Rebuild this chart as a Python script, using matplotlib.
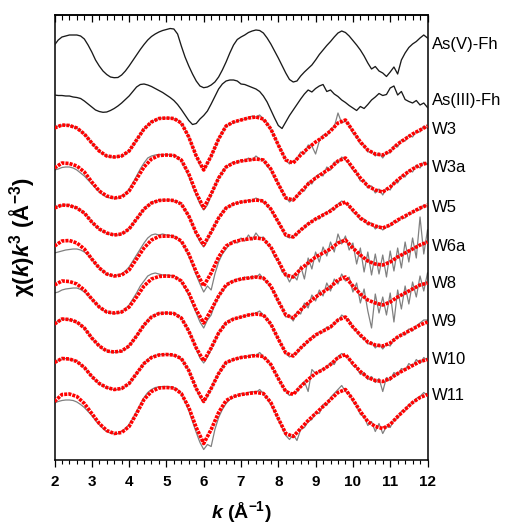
import numpy as np
import matplotlib
matplotlib.use('Agg')
import matplotlib.pyplot as plt
from matplotlib.ticker import MultipleLocator

plt.rcParams['font.family'] = ['Liberation Sans', 'DejaVu Sans']
plt.rcParams['mathtext.fontset'] = 'custom'
plt.rcParams['mathtext.rm'] = 'Liberation Sans:bold'
plt.rcParams['mathtext.it'] = 'Liberation Sans:italic:bold'
plt.rcParams['mathtext.bf'] = 'Liberation Sans:bold'

# ---------------- data ----------------
k_fit = np.linspace(2, 12, 51)     # fit grid (0.2 step)
k_data = np.linspace(2, 12, 101)   # data grid (0.1 step)

references = ['As(V)-Fh', 'As(III)-Fh']
samples = ['W3', 'W3a', 'W5', 'W6a', 'W8', 'W9', 'W10', 'W11']
ref_offsets = [41.5, 36.5]
sample_offsets = [33.2, 29.2, 25.2, 21.4, 17.5, 13.7, 9.75, 5.85]

as5_fh = [0.0, 0.5, 0.8, 0.9, 1.0, 1.0, 1.0, 0.9, 0.6, 0.0,
          -0.7, -1.5, -2.1, -2.6, -2.95, -3.2, -3.27, -3.25, -3.0, -2.6,
          -2.1, -1.55, -1.0, -0.45, 0.05, 0.5, 0.85, 1.1, 1.3, 1.45,
          1.55, 1.65, 1.6, 1.1, -0.1, -1.2, -2.1, -2.9, -3.6, -4.1,
          -4.27, -4.2, -4.0, -3.7, -3.2, -2.5, -1.7, -0.8, 0.0, 0.55,
          0.8, 1.0, 1.25, 1.4, 1.5, 1.45, 1.2, 0.7, 0.1, -0.6,
          -1.3, -2.05, -2.8, -3.45, -3.7, -3.6, -3.1, -2.7, -2.35, -2.0,
          -1.5, -0.95, -0.5, -0.05, 0.35, 0.8, 1.2, 1.4, 1.25, 0.9,
          0.45, 0.0, -0.5, -1.1, -1.8, -2.4, -2.15, -2.6, -2.8, -3.15,
          -2.7, -2.2, -2.9, -1.5, -0.8, -0.25, 0.1, 0.35, 0.7, 1.0,
          0.7]
as3_fh = [0.0, -0.05, -0.05, -0.1, -0.1, -0.2, -0.25, -0.35, -0.6, -0.9,
          -1.2, -1.5, -1.65, -1.73, -1.7, -1.55, -1.35, -1.1, -0.8, -0.45,
          -0.1, 0.35, 0.8, 1.05, 1.1, 1.0, 0.85, 0.65, 0.45, 0.25,
          0.0, -0.25, -0.55, -0.95, -1.45, -2.0, -2.55, -2.95, -2.85, -2.4,
          -2.05, -1.6, -0.9, -0.15, 0.6, 1.1, 1.4, 1.5, 1.5, 1.4,
          1.1, 1.05, 0.9, 0.75, 0.6, 0.35, -0.1, -0.7, -1.5, -2.3,
          -3.05, -3.35, -2.7, -2.05, -1.5, -0.95, -0.4, 0.1, 0.5, 0.3,
          0.65, 0.9, 1.05, 0.35, 0.5, 0.1, -0.15, -0.5, -0.75, -1.05,
          -1.3, -1.55, -1.15, -1.35, -0.95, -0.5, -0.2, 0.15, -0.05, 0.05,
          0.7, 0.9, 0.0, 0.35, -0.45, -0.65, -0.8, -0.55, -1.0, -0.8,
          -1.25]

w3_data = [0.0, 0.2, 0.3, 0.3, 0.25, 0.15, 0.0, -0.3, -0.6, -1.0,
           -1.5, -1.9, -2.3, -2.6, -2.8, -2.9, -2.9, -2.9, -2.8, -2.6,
           -2.3, -1.8, -1.2, -0.6, -0.1, 0.3, 0.6, 0.8, 0.95, 1.0,
           1.0, 1.0, 0.95, 0.8, 0.5, -0.1, -0.9, -1.9, -2.8, -3.7,
           -4.2, -3.6, -2.8, -2.0, -1.1, -0.4, 0.2, 0.4, 0.5, 0.7,
           0.8, 0.9, 1.0, 1.2, 1.1, 1.3, 0.9, 0.5, -0.1, -0.9,
           -1.7, -2.4, -3.2, -3.6, -3.3, -3.1, -2.4, -2.6, -1.7, -1.8,
           -2.6, -1.3, -0.7, -0.8, -0.1, 0.1, 1.5, 0.5, 0.7, 0.3,
           -0.5, -0.8, -1.6, -1.7, -2.4, -2.3, -2.8, -2.5, -3.0, -2.4,
           -2.5, -1.8, -1.9, -1.2, -1.3, -0.7, -0.9, -0.3, -0.4, 0.2,
           0.0]
w3_fit = [0.0, 0.3, 0.25, 0.0, -0.6, -1.5, -2.3, -2.8, -2.9, -2.8,
          -2.3, -1.2, -0.1, 0.6, 0.95, 1.0, 0.95, 0.5, -0.9, -2.8,
          -4.2, -2.8, -1.1, 0.2, 0.6, 0.8, 1.0, 1.1, 0.9, -0.1,
          -1.7, -3.2, -3.5, -2.7, -2.0, -1.4, -0.9, -0.3, 0.5, 0.8,
          -0.3, -1.4, -2.2, -2.6, -2.7, -2.3, -1.6, -1.1, -0.6, -0.2,
          0.2]

w3a_data = [-0.2, -0.1, 0.05, 0.1, 0.1, 0.0, -0.2, -0.5, -0.8, -1.2,
            -1.6, -2.0, -2.4, -2.7, -2.9, -3.0, -3.0, -3.0, -2.8, -2.6,
            -2.1, -1.5, -0.8, -0.1, 0.5, 1.0, 1.2, 1.3, 1.35, 1.3,
            1.35, 1.3, 1.25, 1.1, 0.7, 0.0, -0.8, -1.8, -2.7, -3.6,
            -4.2, -3.7, -2.7, -1.8, -1.0, -0.4, 0.1, 0.4, 0.6, 0.5,
            0.8, 0.7, 1.0, 0.8, 1.2, 0.9, 0.8, 0.2, -0.2, -1.0,
            -1.5, -2.4, -2.9, -3.4, -3.1, -2.9, -2.2, -2.3, -1.4, -1.6,
            -0.9, -0.6, -0.8, 0.1, -0.2, 0.6, 0.5, 1.1, 0.8, 0.4,
            -0.2, -0.5, -1.3, -1.2, -2.0, -1.8, -2.5, -2.1, -2.7, -2.0,
            -2.2, -1.4, -1.5, -0.8, -0.9, -0.2, -0.4, 0.3, 0.0, 0.6,
            0.4]
w3a_fit = [0.0, 0.5, 0.45, 0.2, -0.4, -1.4, -2.3, -2.8, -3.0, -2.9,
           -2.3, -1.1, 0.1, 0.9, 1.25, 1.3, 1.25, 0.8, -0.6, -2.5,
           -4.0, -2.6, -1.0, 0.1, 0.5, 0.7, 0.8, 0.9, 0.8, -0.1,
           -1.6, -3.0, -3.2, -2.4, -1.6, -1.0, -0.5, 0.0, 0.7, 1.0,
           0.0, -1.0, -1.8, -2.2, -2.4, -1.9, -1.2, -0.6, -0.1, 0.3,
           0.5]

w5_data = [0.0, 0.2, 0.3, 0.3, 0.25, 0.15, 0.0, -0.25, -0.5, -0.9,
           -1.4, -1.8, -2.1, -2.35, -2.5, -2.65, -2.7, -2.7, -2.6, -2.4,
           -2.1, -1.6, -1.1, -0.6, -0.1, 0.25, 0.5, 0.7, 0.75, 0.8,
           0.8, 0.8, 0.75, 0.6, 0.4, -0.2, -0.8, -1.7, -2.6, -3.4,
           -3.9, -3.2, -2.4, -1.7, -1.0, -0.4, 0.0, 0.2, 0.4, 0.5,
           0.6, 0.6, 0.8, 0.7, 1.0, 0.8, 0.7, 0.3, -0.2, -0.8,
           -1.4, -2.1, -2.8, -3.0, -2.8, -2.7, -2.1, -2.0, -1.5, -1.4,
           -1.0, -1.1, -0.6, -0.5, -0.1, -0.2, 0.4, 0.7, 0.5, 0.2,
           -0.4, -0.6, -1.2, -1.1, -1.7, -1.5, -2.1, -1.8, -2.2, -1.9,
           -1.8, -1.3, -1.4, -0.9, -1.0, -0.5, -0.5, -0.1, -0.2, 0.3,
           0.2]
w5_fit = [0.0, 0.3, 0.25, 0.0, -0.5, -1.4, -2.1, -2.5, -2.7, -2.6,
          -2.1, -1.1, -0.1, 0.5, 0.75, 0.8, 0.75, 0.4, -0.8, -2.5,
          -3.7, -2.4, -1.0, 0.0, 0.4, 0.6, 0.7, 0.8, 0.7, -0.1,
          -1.4, -2.7, -2.9, -2.2, -1.6, -1.1, -0.7, -0.3, 0.3, 0.6,
          -0.2, -1.0, -1.5, -1.8, -2.0, -1.7, -1.2, -0.8, -0.4, 0.0,
          0.3]

w6a_data = [-0.7, -0.6, -0.5, -0.4, -0.35, -0.3, -0.3, -0.4, -0.6, -0.9,
            -1.3, -1.8, -2.2, -2.5, -2.8, -2.9, -3.0, -2.9, -2.8, -2.5,
            -2.1, -1.5, -0.9, -0.3, 0.3, 0.8, 1.1, 1.2, 1.1, 1.2,
            1.1, 1.05, 1.0, 0.8, 0.4, -0.2, -1.0, -1.9, -2.9, -3.8,
            -4.6, -4.0, -4.4, -2.8, -1.6, -0.8, -0.3, 0.2, 0.5, 0.3,
            0.8, 0.5, 1.1, 0.6, 1.3, 0.8, 0.9, 0.2, -0.1, -1.1,
            -1.4, -2.6, -2.8, -3.6, -2.9, -3.4, -2.0, -3.3, -1.2, -2.3,
            -0.6, -1.6, -0.1, -1.0, 0.4, -0.6, 1.2, 0.2, 1.0, -0.4,
            0.3, -1.8, -0.2, -2.6, -0.6, -2.9, -0.8, -2.8, -0.9, -3.1,
            -0.5, -2.5, -0.2, -2.2, 0.4, -1.6, 0.8, -1.2, 2.9, -0.8,
            1.6]
w6a_fit = [0.0, 0.5, 0.55, 0.3, -0.3, -1.3, -2.2, -2.8, -3.0, -2.9,
           -2.4, -1.3, -0.2, 0.6, 0.95, 1.0, 0.95, 0.5, -0.8, -2.6,
           -4.0, -2.7, -1.1, 0.0, 0.4, 0.6, 0.7, 0.8, 0.7, -0.1,
           -1.5, -2.9, -3.1, -2.3, -1.7, -1.1, -0.7, -0.3, 0.3, 0.6,
           -0.2, -0.9, -1.5, -1.8, -1.9, -1.6, -1.1, -0.7, -0.3, 0.1,
           0.4]

w8_data = [-0.8, -0.7, -0.5, -0.4, -0.35, -0.3, -0.3, -0.45, -0.7, -1.0,
           -1.4, -1.8, -2.2, -2.5, -2.7, -2.8, -2.85, -2.8, -2.7, -2.4,
           -2.0, -1.4, -0.8, -0.1, 0.4, 0.9, 1.1, 1.2, 1.1, 1.0,
           1.0, 0.95, 0.9, 0.7, 0.3, -0.3, -1.0, -1.9, -2.8, -3.7,
           -4.3, -3.5, -3.0, -1.9, -1.2, -0.6, -0.1, 0.3, 0.4, 0.6,
           0.5, 0.8, 0.6, 0.9, 0.7, 1.1, 0.6, 0.3, -0.3, -0.8,
           -1.7, -2.2, -3.2, -3.0, -3.6, -2.7, -2.9, -1.8, -2.3, -1.0,
           -1.6, -0.5, -1.1, 0.2, -0.6, 0.6, 0.1, 1.1, 0.4, 0.8,
           -0.7, 0.2, -1.8, -0.4, -2.6, -4.3, -0.9, -2.8, -1.2, -3.0,
           -0.8, -3.7, -0.5, -2.4, -0.1, -1.9, 0.3, -1.2, 0.9, -0.6,
           1.2]
w8_fit = [0.0, 0.4, 0.35, 0.1, -0.5, -1.4, -2.2, -2.7, -2.8, -2.7,
          -2.2, -1.2, -0.1, 0.6, 0.85, 0.9, 0.85, 0.4, -0.8, -2.5,
          -3.8, -2.5, -1.1, 0.0, 0.4, 0.6, 0.7, 0.8, 0.7, -0.1,
          -1.6, -3.0, -3.3, -2.5, -1.8, -1.2, -0.7, -0.2, 0.5, 0.8,
          -0.1, -0.9, -1.5, -1.8, -2.0, -1.7, -1.2, -0.8, -0.4, 0.0,
          0.2]

w9_data = [-0.1, 0.2, 0.35, 0.4, 0.35, 0.25, 0.1, -0.2, -0.5, -1.0,
           -1.5, -1.9, -2.3, -2.6, -2.8, -2.9, -2.95, -2.9, -2.8, -2.6,
           -2.3, -1.8, -1.3, -0.7, -0.2, 0.3, 0.6, 0.85, 0.95, 1.0,
           1.0, 1.0, 0.95, 0.8, 0.5, -0.1, -0.8, -1.6, -2.6, -3.5,
           -4.0, -3.4, -2.6, -1.8, -1.0, -0.4, 0.0, 0.3, 0.4, 0.5,
           0.6, 0.7, 0.8, 0.9, 1.0, 1.2, 0.8, 0.4, -0.1, -0.9,
           -1.6, -2.3, -3.0, -3.4, -3.2, -3.0, -2.5, -2.2, -1.9, -1.4,
           -1.3, -0.9, -0.9, -0.4, -0.5, 0.0, 0.2, 0.8, 0.5, 0.3,
           -0.5, -0.8, -1.4, -1.5, -2.1, -1.9, -2.5, -2.1, -2.6, -2.1,
           -2.3, -1.6, -1.5, -1.1, -1.2, -0.6, -0.8, -0.3, 0.0, 0.3,
           0.3]
w9_fit = [-0.1, 0.4, 0.35, 0.1, -0.5, -1.5, -2.3, -2.8, -2.9, -2.8,
          -2.3, -1.3, -0.2, 0.6, 0.95, 1.0, 0.95, 0.5, -0.8, -2.5,
          -3.8, -2.5, -1.0, 0.0, 0.4, 0.6, 0.8, 0.9, 0.8, -0.1,
          -1.6, -3.0, -3.3, -2.5, -1.8, -1.2, -0.8, -0.4, 0.3, 0.6,
          -0.4, -1.2, -1.9, -2.2, -2.3, -2.0, -1.4, -1.0, -0.6, -0.2,
          0.1]

w10_data = [0.0, 0.2, 0.35, 0.4, 0.35, 0.25, 0.1, -0.2, -0.5, -0.9,
            -1.4, -1.8, -2.1, -2.35, -2.5, -2.65, -2.7, -2.7, -2.6, -2.4,
            -2.1, -1.6, -1.1, -0.6, -0.1, 0.3, 0.55, 0.7, 0.8, 0.8,
            0.8, 0.8, 0.75, 0.6, 0.4, -0.2, -0.8, -1.7, -2.6, -3.5,
            -4.0, -3.4, -2.6, -1.8, -1.1, -0.5, 0.0, 0.1, 0.3, 0.4,
            0.5, 0.6, 0.6, 0.8, 0.7, 1.0, 0.6, 0.3, -0.3, -0.9,
            -1.6, -2.3, -2.9, -3.3, -3.1, -2.9, -2.3, -1.9, -2.9, -0.7,
            -1.1, -0.9, -0.6, -0.5, 0.0, -0.2, 0.6, 0.9, 0.6, 0.4,
            -0.3, -0.5, -1.2, -1.0, -1.7, -1.4, -2.0, -1.6, -2.9, -1.5,
            -1.8, -1.0, -1.3, -0.6, -0.8, -0.1, -0.4, 0.3, -0.1, 0.5,
            0.2]
w10_fit = [0.0, 0.4, 0.35, 0.1, -0.5, -1.4, -2.1, -2.5, -2.7, -2.6,
           -2.1, -1.1, -0.1, 0.5, 0.75, 0.8, 0.75, 0.4, -0.8, -2.6,
           -3.9, -2.6, -1.1, 0.0, 0.3, 0.5, 0.6, 0.7, 0.6, -0.2,
           -1.6, -2.9, -3.2, -2.4, -1.7, -1.1, -0.7, -0.2, 0.5, 0.8,
           -0.1, -0.9, -1.5, -1.8, -1.9, -1.6, -1.1, -0.7, -0.3, 0.1,
           0.3]

w11_data = [-0.15, 0.0, 0.1, 0.15, 0.15, 0.1, -0.05, -0.3, -0.6, -1.0,
            -1.4, -1.9, -2.3, -2.7, -3.0, -3.15, -3.2, -3.2, -3.0, -2.7,
            -2.3, -1.7, -1.0, -0.3, 0.4, 0.9, 1.2, 1.4, 1.45, 1.5,
            1.5, 1.45, 1.4, 1.2, 0.8, 0.0, -0.9, -2.0, -3.1, -4.1,
            -4.8, -4.3, -4.5, -2.8, -1.6, -0.8, -0.2, 0.2, 0.5, 0.6,
            0.8, 0.7, 0.9, 1.0, 0.9, 1.2, 0.8, 0.3, -0.3, -1.0,
            -1.8, -2.6, -3.4, -3.8, -3.3, -3.9, -2.8, -2.6, -2.0, -1.8,
            -1.1, -1.2, -0.3, -0.4, 0.4, 0.8, 1.2, 1.6, 1.0, 0.8,
            0.0, -0.4, -1.3, -1.5, -2.4, -2.0, -3.0, -2.2, -3.2, -2.5,
            -2.6, -1.8, -1.7, -1.0, -0.9, -0.3, -0.2, 0.3, 0.5, 0.9,
            0.6]
w11_fit = [0.0, 0.7, 0.75, 0.5, -0.2, -1.2, -2.2, -2.9, -3.2, -3.1,
           -2.5, -1.2, 0.2, 1.0, 1.35, 1.4, 1.35, 0.8, -0.6, -2.6,
           -4.2, -2.8, -1.1, 0.1, 0.5, 0.7, 0.8, 0.9, 0.8, -0.1,
           -1.7, -3.2, -3.5, -2.7, -1.9, -1.2, -0.5, 0.2, 0.9, 1.2,
           0.2, -1.0, -2.0, -2.5, -2.7, -2.3, -1.5, -0.8, -0.1, 0.4,
           0.7]

ref_curves = [as5_fh, as3_fh]
data_curves = [w3_data, w3a_data, w5_data, w6a_data, w8_data, w9_data, w10_data, w11_data]
fit_curves = [w3_fit, w3a_fit, w5_fit, w6a_fit, w8_fit, w9_fit, w10_fit, w11_fit]

# label positions (layout)
ref_label_y = [41.5, 36.0]
sample_label_y = [33.0, 29.2, 25.3, 21.35, 17.7, 13.85, 10.1, 6.5]

# ---------------- plot ----------------
fig = plt.figure(figsize=(5.08, 5.29), dpi=100)
ax = fig.add_axes([54.5 / 508, 1 - 460 / 529, 373 / 508, 445 / 529])

for name, curve, off in zip(references, ref_curves, ref_offsets):
    ax.plot(k_data, np.array(curve) + off, color='#1a1a1a', lw=0.95, zorder=3)

for name, dat, fit, off in zip(samples, data_curves, fit_curves, sample_offsets):
    ax.plot(k_data, np.array(dat) + off, color='#808080', lw=0.9, zorder=2)
    ax.plot(k_fit, np.array(fit) + off, color='#ff0000', lw=2.6,
            dashes=(0.85, 0.3), zorder=4)

for name, y in zip(references, ref_label_y):
    ax.text(1.012, y, name, transform=ax.get_yaxis_transform(),
            ha='left', va='center', fontsize=12, clip_on=False)
for name, y in zip(samples, sample_label_y):
    ax.text(1.012, y, name, transform=ax.get_yaxis_transform(),
            ha='left', va='center', fontsize=12, clip_on=False)

ax.set_xlim(2, 12)
ax.set_ylim(0, 44.5)
ax.set_yticks([])
ax.xaxis.set_major_locator(MultipleLocator(1))
ax.xaxis.set_minor_locator(MultipleLocator(0.2))
ax.tick_params(axis='x', which='major', direction='out', length=5, width=0.9,
               pad=6, labelsize=11)
ax.tick_params(axis='x', which='minor', direction='out', length=3, width=0.8)
for lab in ax.get_xticklabels():
    lab.set_fontweight('bold')

sec = ax.secondary_xaxis('top')
sec.xaxis.set_major_locator(MultipleLocator(1))
sec.xaxis.set_minor_locator(MultipleLocator(0.2))
sec.tick_params(axis='x', which='major', direction='in', length=5, width=0.9,
                labeltop=False)
sec.tick_params(axis='x', which='minor', direction='in', length=3.5, width=0.8)
sec.spines['top'].set_linewidth(1.1)

for s in ax.spines.values():
    s.set_linewidth(1.1)

ax.set_xlabel('$k$ (Å$^{-1}$)', fontsize=14, fontweight='bold')
ax.xaxis.set_label_coords(0.5, -0.088)
ax.set_ylabel('χ($k$)$k^{3}$ (Å$^{-3}$)', fontsize=16, fontweight='bold')
ax.yaxis.set_label_coords(-0.048, 0.5)

fig.savefig('out.png', dpi=100)
